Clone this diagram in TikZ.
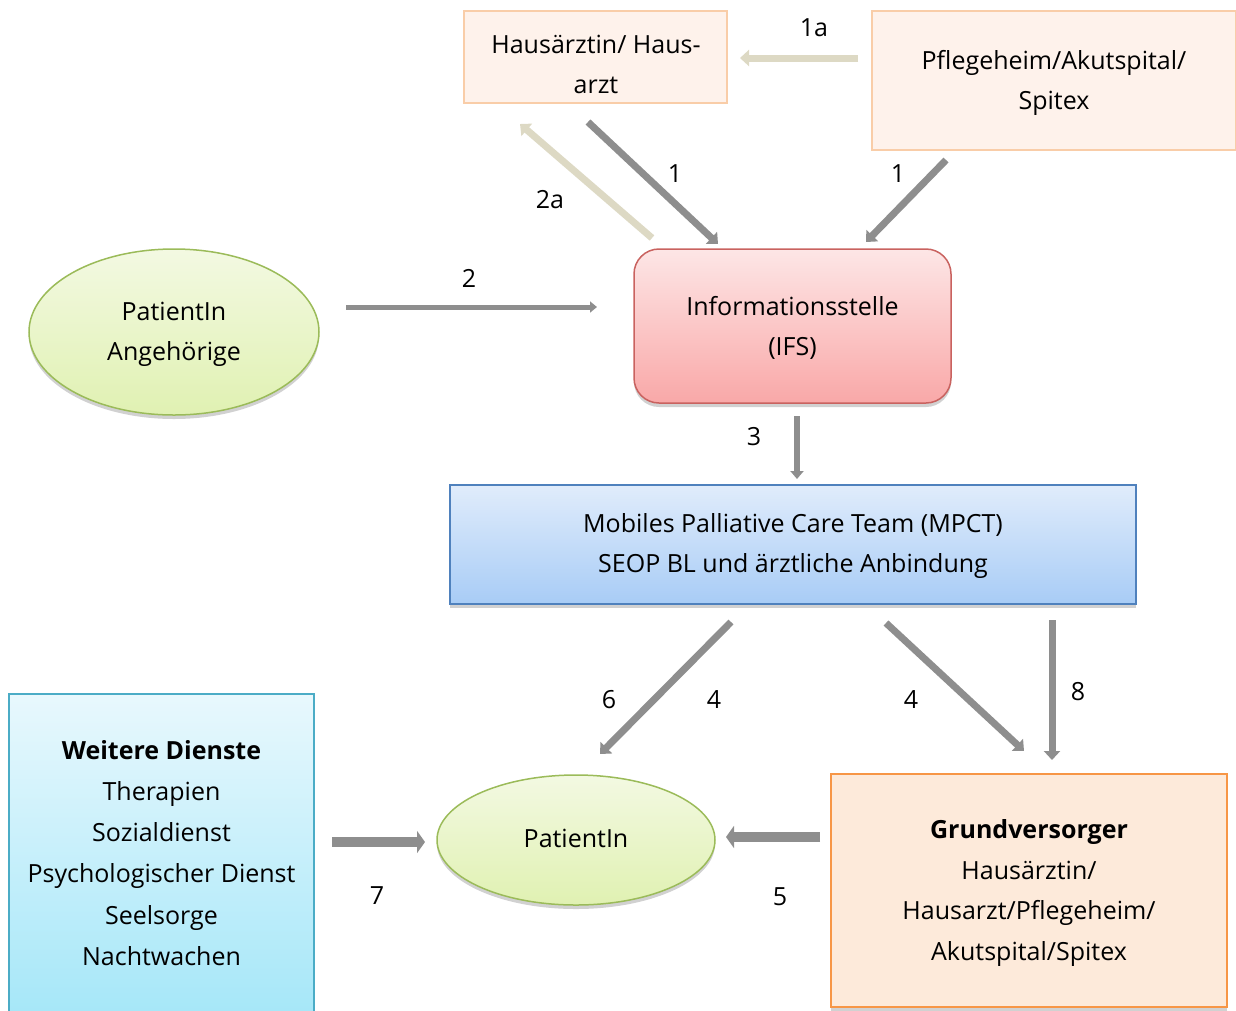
\documentclass[tikz,border=0pt]{standalone}
\usepackage{fontspec}
\setmainfont{Open Sans}
\usetikzlibrary{arrows.meta,shadows,shapes.geometric}
\definecolor{arrgray}{HTML}{8E8E8E}
\definecolor{arrbeige}{HTML}{DDD9C4}
\definecolor{peachfill}{HTML}{FEF2EB}
\definecolor{peachline}{HTML}{F9CDA8}
\definecolor{ifstop}{HTML}{FDE6E6}
\definecolor{ifsbot}{HTML}{F9A8A8}
\definecolor{ifsline}{HTML}{C9625F}
\definecolor{grtop}{HTML}{F3F9E2}
\definecolor{grbot}{HTML}{E0F1B2}
\definecolor{grline}{HTML}{9BBB59}
\definecolor{bltop}{HTML}{E0ECFB}
\definecolor{blbot}{HTML}{A8CCF6}
\definecolor{blline}{HTML}{4F81BD}
\definecolor{cytop}{HTML}{E8F8FD}
\definecolor{cybot}{HTML}{A2E6F8}
\definecolor{cyline}{HTML}{4BACC6}
\definecolor{gvfill}{HTML}{FDEADA}
\definecolor{gvline}{HTML}{F79646}
\tikzset{
  x=1pt, y=-1pt,
  txt/.style={font=\fontsize{25}{40}\selectfont, align=center, inner sep=0pt, yshift=-3pt},
  num/.style={font=\fontsize{25}{30}\selectfont, inner sep=0pt},
  shad/.style={drop shadow={shadow xshift=0pt, shadow yshift=-4pt, opacity=1, fill=black!18}},
  peachbox/.style={rectangle, draw=peachline, line width=1.5pt, fill=peachfill, inner sep=0pt},
  ifsbox/.style={rectangle, rounded corners=25pt, draw=ifsline, line width=1.5pt, top color=ifstop, bottom color=ifsbot, inner sep=0pt, shad},
  greenell/.style={ellipse, draw=grline, line width=1.5pt, top color=grtop, bottom color=grbot, inner sep=0pt, shad},
  bluebox/.style={rectangle, draw=blline, line width=1.5pt, top color=bltop, bottom color=blbot, inner sep=0pt, shad},
  cyanbox/.style={rectangle, draw=cyline, line width=1.5pt, top color=cytop, bottom color=cybot, inner sep=0pt},
  gvbox/.style={rectangle, draw=gvline, line width=1.8pt, fill=gvfill, inner sep=0pt, shad},
  garrow/.style={draw=arrgray, line width=7pt, -{Triangle[length=9pt,width=16pt]}},
  barrow/.style={draw=arrbeige, line width=7pt, -{Triangle[length=9pt,width=16pt]}},
}
\begin{document}
\begin{tikzpicture}
\useasboundingbox (0,0) rectangle (1236,1010);
% boxes
\node[peachbox, minimum width=263pt, minimum height=92pt] (haus) at (595.5,57) {};
\node[txt] (haust) at (596,61) {Hausärztin/ Haus-\\arzt};
\node[peachbox, minimum width=364pt, minimum height=139pt] (pfl) at (1054,80.5) {};
\node[txt] (pflt) at (1054,80) {Pflegeheim/Akutspital/\\Spitex};
\node[ifsbox, minimum width=317pt, minimum height=154pt] (ifs) at (792.5,326) {};
\node[txt] (ifst) at (792.5,325) {Informationsstelle\\(IFS)};
\node[greenell, minimum width=290pt, minimum height=166pt] (pa) at (174,332) {};
\node[txt] (pat1) at (174,331.5) {PatientIn\\Angehörige};
\node[bluebox, minimum width=686pt, minimum height=119pt] (mpct) at (793,544.5) {};
\node[txt] (mpctt) at (793,543) {Mobiles Palliative Care Team (MPCT)\\SEOP BL und ärztliche Anbindung};
\node[cyanbox, minimum width=305pt, minimum height=340pt] (wd) at (161.5,864) {};
\node[txt, font=\fontsize{25}{41.2}\selectfont] (wdt) at (161.5,850) {\textbf{Weitere Dienste}\\Therapien\\Sozialdienst\\Psychologischer Dienst\\Seelsorge\\Nachtwachen};
\node[greenell, minimum width=278pt, minimum height=130pt] (pat) at (576,840) {};
\node[txt] (patt) at (576,835) {PatientIn};
\node[gvbox, minimum width=396pt, minimum height=233pt] (gv) at (1029,890.5) {};
\node[txt, font=\fontsize{25}{40.7}\selectfont] (gvt) at (1029,890) {\textbf{Grundversorger}\\Hausärztin/\\Hausarzt/Pflegeheim/\\Akutspital/Spitex};
% arrow end points
\coordinate (a1as) at (858,58);  \coordinate (a1ae) at (740,58);
\coordinate (a1ls) at (588,122); \coordinate (a1le) at (718,244);
\coordinate (a1rs) at (946,160); \coordinate (a1re) at (866,242);
\coordinate (a2as) at (652,238); \coordinate (a2ae) at (520,124);
\coordinate (a2s) at (346,307);  \coordinate (a2e) at (597,307);
\coordinate (a3s) at (797,416);  \coordinate (a3e) at (797,479);
\coordinate (a6s) at (731,622);  \coordinate (a6e) at (600,754);
\coordinate (a4s) at (886,623);  \coordinate (a4e) at (1024,751);
\coordinate (a8s) at (1052,620); \coordinate (a8e) at (1052,760);
\coordinate (a7s) at (332,842);  \coordinate (a7e) at (425,842);
\coordinate (a5s) at (820,837);  \coordinate (a5e) at (726,837);
% arrows
\draw[barrow] (a1as) -- (a1ae);
\draw[garrow] (a1ls) -- (a1le);
\draw[garrow] (a1rs) -- (a1re);
\draw[barrow] (a2as) -- (a2ae);
\draw[garrow, line width=5pt, -{Triangle[length=7pt,width=11pt]}] (a2s) -- (a2e);
\draw[garrow, line width=6pt, -{Triangle[length=8pt,width=13pt]}] (a3s) -- (a3e);
\draw[garrow] (a6s) -- (a6e);
\draw[garrow] (a4s) -- (a4e);
\draw[garrow, line width=7pt] (a8s) -- (a8e);
\draw[garrow, line width=10pt, -{Triangle[length=8pt,width=22pt]}] (a7s) -- (a7e);
\draw[garrow, line width=10pt, -{Triangle[length=8pt,width=22pt]}] (a5s) -- (a5e);
% labels
\node[num] (l1a) at (814,28) {1a};
\node[num] (l1l) at (675,174) {1};
\node[num] (l1r) at (898,174) {1};
\node[num] (l2a) at (550,200) {2a};
\node[num] (l2) at (469,278) {2};
\node[num] (l3) at (754,437) {3};
\node[num] (l6) at (609,700) {6};
\node[num] (l4l) at (714,700) {4};
\node[num] (l4r) at (911,700) {4};
\node[num] (l8) at (1078,692) {8};
\node[num] (l7) at (377,896) {7};
\node[num] (l5) at (780,897) {5};
\end{tikzpicture}
\end{document}
